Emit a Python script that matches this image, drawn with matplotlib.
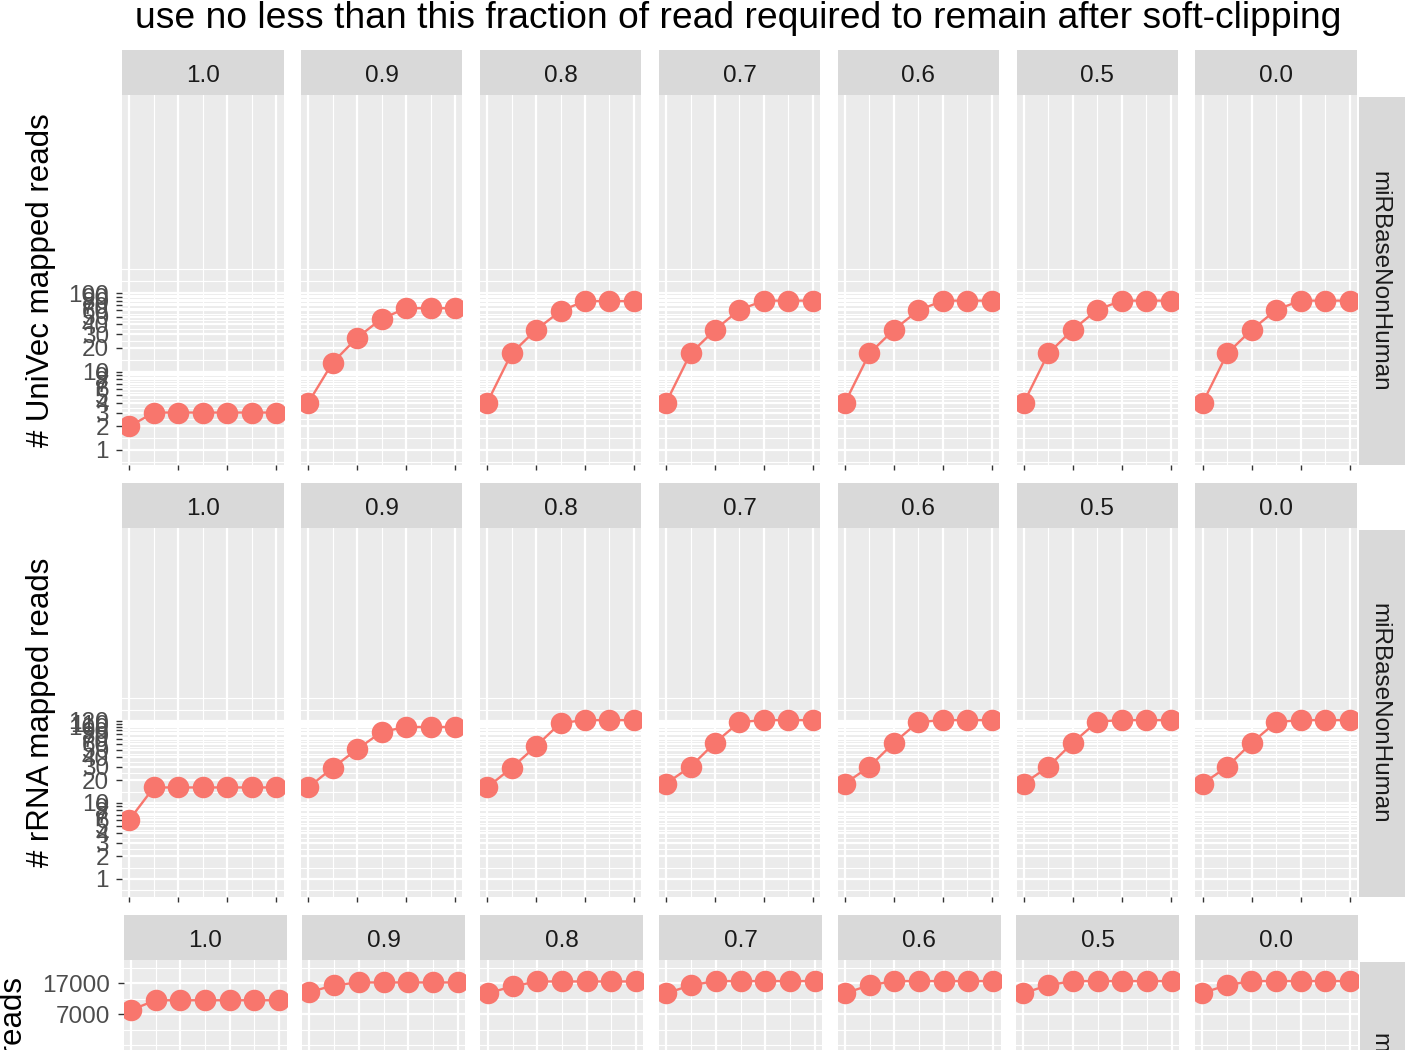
import numpy as np
import matplotlib
matplotlib.use("Agg")
import matplotlib.pyplot as plt
from matplotlib.ticker import FixedLocator, NullFormatter, FixedFormatter

# ---- data -------------------------------------------------------------
fractions = ["1.0", "0.9", "0.8", "0.7", "0.6", "0.5", "0.0"]
x_steps = [1, 2, 3, 4, 5, 6, 7]
x_breaks = [1, 3, 5, 7]
x_minor = [2, 4, 6]
database = "miRBaseNonHuman"

univec_counts = [
    [2, 3, 3, 3, 3, 3, 3],
    [4, 13, 27, 47, 64, 64, 64],
    [4, 17, 34, 59, 79, 79, 79],
    [4, 17, 34, 61, 80, 80, 80],
    [4, 17, 34, 60, 80, 80, 80],
    [4, 17, 34, 61, 80, 80, 80],
    [4, 17, 34, 61, 80, 80, 80],
]
rrna_counts = [
    [6, 16, 16, 16, 16, 16, 16],
    [16, 29, 51, 86, 100, 100, 100],
    [16, 29, 56, 113, 123, 123, 123],
    [18, 30, 62, 116, 123, 123, 123],
    [18, 30, 62, 116, 123, 123, 123],
    [18, 30, 62, 118, 123, 123, 123],
    [18, 30, 62, 116, 123, 123, 123],
]
mirna_counts = [
    [7850, 10400, 10400, 10400, 10400, 10400, 10400],
    [13100, 16000, 17300, 17300, 17300, 17300, 17300],
    [12700, 15500, 17800, 17800, 17800, 17800, 17800],
    [12700, 16000, 18000, 18000, 18000, 18000, 18000],
    [12700, 16000, 18000, 18000, 18000, 18000, 18000],
    [12700, 16000, 18000, 18000, 18000, 18000, 18000],
    [12700, 16000, 18000, 18000, 18000, 18000, 18000],
]

univec_breaks = list(range(1, 11)) + list(range(20, 101, 10))
rrna_breaks = list(range(1, 11)) + list(range(20, 121, 10))
mirna_breaks = [7000, 17000]

univec_label = "# UniVec mapped reads"
rrna_label = "# rRNA mapped reads"
mirna_label = "# miRNA mapped reads"
title = "use no less than this fraction of read required to remain after soft-clipping"

# ---- style ------------------------------------------------------------
W, H = 1405, 1050
FONT = "Liberation Sans"
PANEL_BG = "#EBEBEB"
STRIP_BG = "#D9D9D9"
POINT_COL = "#F8766D"
plt.rcParams["font.family"] = [FONT, "DejaVu Sans"]

fig = plt.figure(figsize=(W / 100, H / 100), dpi=100)


def px_axes(x0, y0, x1, y1):
    return fig.add_axes([x0 / W, 1 - y1 / H, (x1 - x0) / W, (y1 - y0) / H])


def log_minor_breaks(breaks, lo, hi):
    """Minor grid positions halfway (in log space) between breaks,
    extended one step beyond the outer breaks."""
    b = list(np.log10(breaks))
    step = b[1] - b[0]
    if np.log10(lo) < b[0]:
        b = [b[0] - step] + b
    if np.log10(hi) > b[-1]:
        b = b + [b[-1] + step]
    mids = [(a + c) / 2 for a, c in zip(b[:-1], b[1:])]
    return [10 ** v for v in sorted(mids + b)]


def draw_row(values, breaks, ylim, panel_top, panel_bot, col_left, col_step,
             col_width, ylabel, ylabel_kw):
    strip_h = 45
    minor = log_minor_breaks(breaks, *ylim)
    clipped = panel_bot > H
    for i, (frac, vals) in enumerate(zip(fractions, values)):
        x0 = col_left + i * col_step
        x1 = x0 + col_width
        ax = px_axes(x0, panel_top, x1, panel_bot)
        ax.set_facecolor(PANEL_BG)
        ax.set_yscale("log")
        ax.set_xlim(0.7, 7.3)
        ax.set_ylim(*ylim)
        ax.yaxis.set_major_locator(FixedLocator(breaks))
        ax.yaxis.set_major_formatter(FixedFormatter([str(b) for b in breaks]))
        ax.yaxis.set_minor_locator(FixedLocator(minor))
        ax.yaxis.set_minor_formatter(NullFormatter())
        ax.xaxis.set_major_locator(FixedLocator(x_breaks))
        ax.xaxis.set_minor_locator(FixedLocator(x_minor))
        ax.set_axisbelow(True)
        ax.grid(which="major", color="white", lw=1.6)
        ax.grid(which="minor", color="white", lw=0.8)
        for s in ax.spines.values():
            s.set_visible(False)
        ax.tick_params(which="minor", length=0)
        ax.tick_params(axis="x", which="major",
                       length=0 if clipped else 3.8, width=1.0,
                       color="#333333", labelbottom=False)
        if i == 0:
            ax.tick_params(axis="y", which="major", length=4.0, width=1.0,
                           color="#333333", labelsize=17.5,
                           labelcolor="#4D4D4D", pad=5.5)
        else:
            ax.tick_params(axis="y", which="major", length=0, labelleft=False)

        ax.plot(x_steps, vals, "-", color=POINT_COL, lw=1.7,
                marker="o", ms=15.5, mec="none", mfc=POINT_COL)

        # column facet strip
        sax = px_axes(x0, panel_top - strip_h, x1, panel_top)
        sax.set_facecolor(STRIP_BG)
        sax.set_xticks([])
        sax.set_yticks([])
        for s in sax.spines.values():
            s.set_visible(False)
        sax.text(0.5, 0.42, frac, ha="center", va="center", fontsize=17.5,
                 color="#1A1A1A", transform=sax.transAxes)

    # right-hand facet strip
    rx0 = col_left + 6 * col_step + col_width + 2
    rax = px_axes(rx0, panel_top + 2, rx0 + 48, panel_bot)
    rax.set_facecolor(STRIP_BG)
    rax.set_xticks([])
    rax.set_yticks([])
    for s in rax.spines.values():
        s.set_visible(False)
    if not clipped:
        rax.text(0.42, 0.5, database, rotation=270, ha="center", va="center",
                 fontsize=17.5, color="#1A1A1A", transform=rax.transAxes)
    else:
        fig.text((rx0 + 20) / W, 1 - 1033 / H, database, rotation=270,
                 ha="center", va="top", fontsize=17.5, color="#1A1A1A")

    fig.text(ylabel_kw["x"] / W, 1 - ylabel_kw["y"] / H, ylabel,
             rotation=90, ha="center", va=ylabel_kw["va"], fontsize=22.5,
             color="black")


fig.text(738 / W, 1 - 19 / H, title, ha="center", va="center", fontsize=26.8,
         color="black")

draw_row(univec_counts, univec_breaks, (0.644, 33300), 95, 465,
         122, 178.9, 161.5, univec_label, {"x": 41, "y": 280, "va": "center"})
draw_row(rrna_counts, rrna_breaks, (0.579, 41500), 528, 897,
         122, 178.9, 161.5, rrna_label, {"x": 41, "y": 712, "va": "center"})
draw_row(mirna_counts, mirna_breaks, (0.83, 32900), 960, 1330,
         123.5, 178.5, 163, mirna_label, {"x": 14, "y": 977, "va": "top"})

fig.savefig("out.png", dpi=100, facecolor="white")
